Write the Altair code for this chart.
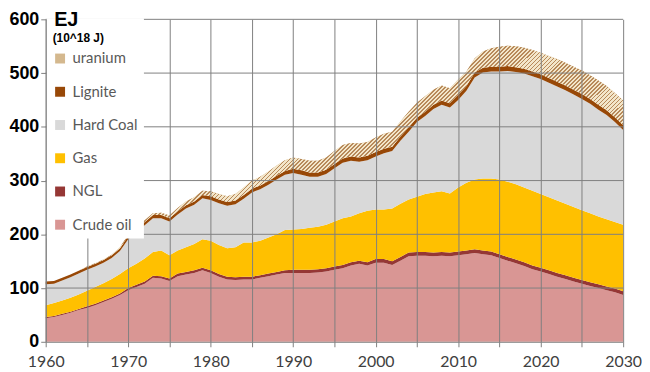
import altair as alt
import pandas as pd

# ---------------- data (EJ per year) ----------------
years = list(range(1960, 2031))

crude_oil = [44, 46, 50, 54, 59, 63, 68, 74, 80, 87,
             96, 102, 108, 119, 118, 113, 122, 125, 128, 133,
             128, 121, 116, 115, 116, 116, 119, 122, 125, 128,
             128, 128, 128, 129, 131, 134, 137, 142, 145, 142,
             147, 147, 143, 151, 159, 160, 160, 159, 160, 159,
             161, 163, 165, 163, 161, 156, 151, 146, 141, 135,
             131, 126, 121, 117, 112, 108, 104, 100, 96, 92, 87]

ngl = [2, 2, 2, 2, 2, 3, 3, 3, 3, 3,
       4, 4, 4, 4, 4, 5, 5, 5, 5, 5,
       5, 5, 5, 5, 5, 5, 5, 5, 5, 5,
       6, 6, 6, 6, 6, 6, 6, 6, 6, 6,
       7, 7, 7, 7, 7, 7, 7, 7, 7, 7,
       7, 7, 7, 7, 7, 7, 7, 7, 7, 7,
       7, 7, 7, 7, 7, 7, 7, 7, 7, 7, 7]

gas = [22, 24, 25, 26, 27, 29, 31, 32, 34, 36,
       37, 39, 43, 44, 48, 43, 43, 46, 49, 53,
       55, 54, 53, 56, 64, 64, 64, 67, 70, 75,
       75, 76, 78, 79, 81, 84, 87, 85, 88, 96,
       92, 92, 98, 99, 99, 103, 108, 112, 113, 110,
       119, 126, 130, 134, 136, 139, 140, 140, 139, 139,
       137, 136, 135, 133, 132, 130, 128, 126, 125, 124, 124]

hard_coal = [39, 36, 37, 38, 39, 39, 38, 38, 39, 43,
             54, 60, 62, 63, 60, 63, 67, 72, 73, 76,
             76, 78, 79, 80, 81, 93, 96, 98, 102, 103,
             105, 101, 95, 93, 94, 99, 103, 104, 96, 94,
             99, 105, 107, 117, 126, 139, 145, 155, 161, 160,
             163, 171, 190, 197, 199, 201, 206, 209, 212, 213,
             214, 213, 212, 211, 209, 207, 204, 199, 194, 186, 176]

lignite = [5, 5, 5, 5, 5, 5, 5, 5, 5, 5,
           6, 6, 6, 6, 6, 6, 6, 6, 6, 6,
           7, 7, 7, 7, 7, 7, 7, 7, 7, 7,
           8, 8, 8, 8, 8, 8, 8, 8, 8, 8,
           8, 8, 8, 8, 8, 8, 8, 8, 8, 8,
           9, 9, 9, 9, 9, 9, 9, 9, 9, 9,
           9, 9, 9, 9, 9, 9, 9, 9, 9, 9, 9]

uranium = [0, 0, 0, 0, 0, 1, 1, 1, 1, 2,
           2, 2, 3, 3, 4, 5, 6, 7, 8, 8,
           9, 10, 11, 12, 14, 15, 16, 18, 19, 20,
           21, 21, 22, 22, 23, 24, 25, 25, 26, 26,
           27, 28, 28, 28, 29, 28, 29, 28, 28, 28,
           29, 27, 26, 30, 34, 37, 38, 39, 39, 40,
           40, 41, 42, 42, 43, 44, 44, 45, 45, 45, 46]

stack_order = ["Crude oil", "NGL", "Gas", "Hard Coal", "Lignite", "uranium"]
legend_order = ["uranium", "Lignite", "Hard Coal", "Gas", "NGL", "Crude oil"]
legend_colors = ["#D4B88E", "#984807", "#D9D9D9", "#FFC000", "#953735", "#D99694"]

x_ticks = list(range(1960, 2031, 5))
y_ticks = [0, 100, 200, 300, 400, 500, 600]
grid_levels = [100, 200, 300, 400, 500, 600]

# ---------------- styles ----------------
GRID = "#808080"
HATCH_DARK = "#B7895A"
HATCH_LIGHT = "#F3E6CA"

values = {"Crude oil": crude_oil, "NGL": ngl, "Gas": gas,
          "Hard Coal": hard_coal, "Lignite": lignite, "uranium": uranium}
rows = []
for k, s in enumerate(stack_order):
    for yr, v in zip(years, values[s]):
        rows.append({"year": yr, "source": s, "value": v, "order": k})
df = pd.DataFrame(rows)

# diagonal hatch as a striped linear gradient
N = 170
stops = []
for i in range(N):
    a = round(i / N, 6)
    b = round((i + 0.42) / N, 6)
    c = round((i + 1) / N, 6)
    stops += [alt.GradientStop(color=HATCH_DARK, offset=a),
              alt.GradientStop(color=HATCH_DARK, offset=b),
              alt.GradientStop(color=HATCH_LIGHT, offset=b),
              alt.GradientStop(color=HATCH_LIGHT, offset=c)]
hatch_fill = alt.Gradient(gradient="linear", stops=stops, x1=0, y1=0, x2=1, y2=0.41)

base = alt.Chart(df).transform_stack(
    stack="value", groupby=["year"],
    sort=[alt.SortField("order", order="ascending")],
    as_=["y0", "y1"])

x_enc = alt.X("year:Q",
              scale=alt.Scale(domain=[1960, 2030], nice=False, zero=False),
              axis=alt.Axis(values=x_ticks, format="d",
                            labelExpr="datum.value % 10 == 0 ? datum.label : ''",
                            grid=True, gridColor=GRID, gridWidth=1,
                            domainColor=GRID, tickColor=GRID, tickSize=5,
                            labelFont="Lato", labelFontSize=16, labelColor="#404040",
                            labelPadding=7, labelFlush=False, title=None, zindex=1))

y_scale = alt.Scale(domain=[0, 600], nice=False)

areas = base.mark_area(strokeWidth=0).encode(
    x=x_enc,
    y=alt.Y("y1:Q", scale=y_scale,
            axis=alt.Axis(values=y_ticks, grid=False, domainColor=GRID, tickColor=GRID,
                          tickSize=5, labelPadding=2, labelFont="Liberation Sans",
                          labelFontSize=18, labelFontWeight="bold", labelColor="black",
                          title="EJ", titleAngle=0, titleAlign="left",
                          titleBaseline="alphabetic", titleX=8, titleY=6,
                          titleFont="Liberation Sans", titleFontSize=20,
                          titleFontWeight="bold", titleColor="black", zindex=3)),
    y2="y0:Q",
    color=alt.Color("source:N",
                    scale=alt.Scale(domain=legend_order, range=legend_colors),
                    legend=alt.Legend(title=["", "(10^18 J)"], titleLineHeight=9,
                                      orient="none",
                                      legendX=1, legendY=-1, direction="vertical",
                                      fillColor="white", padding=6,
                                      titleFont="Liberation Sans", titleFontSize=12,
                                      titleFontWeight="bold", titleColor="black",
                                      titlePadding=6,
                                      labelFont="Lato", labelFontSize=15,
                                      labelColor="#595959", labelOffset=5,
                                      symbolType="square", symbolSize=100,
                                      symbolStrokeWidth=0, rowPadding=17.5, zindex=2)),
)

hatch = base.transform_filter(alt.datum.source == "uranium").mark_area(
    fill=hatch_fill, strokeWidth=0).encode(
    x="year:Q", y="y1:Q", y2="y0:Q")

hgrid = alt.Chart(pd.DataFrame({"level": grid_levels})).mark_rule(
    color=GRID, strokeWidth=1).encode(y=alt.Y("level:Q", scale=y_scale))

chart = alt.layer(areas, hatch, hgrid).properties(
    width=582, height=325,
    padding={"left": 0, "top": 0, "right": 0, "bottom": 0},
).configure_view(stroke=None)

chart.save("out.html", embed_options={"renderer": "svg", "actions": False})
